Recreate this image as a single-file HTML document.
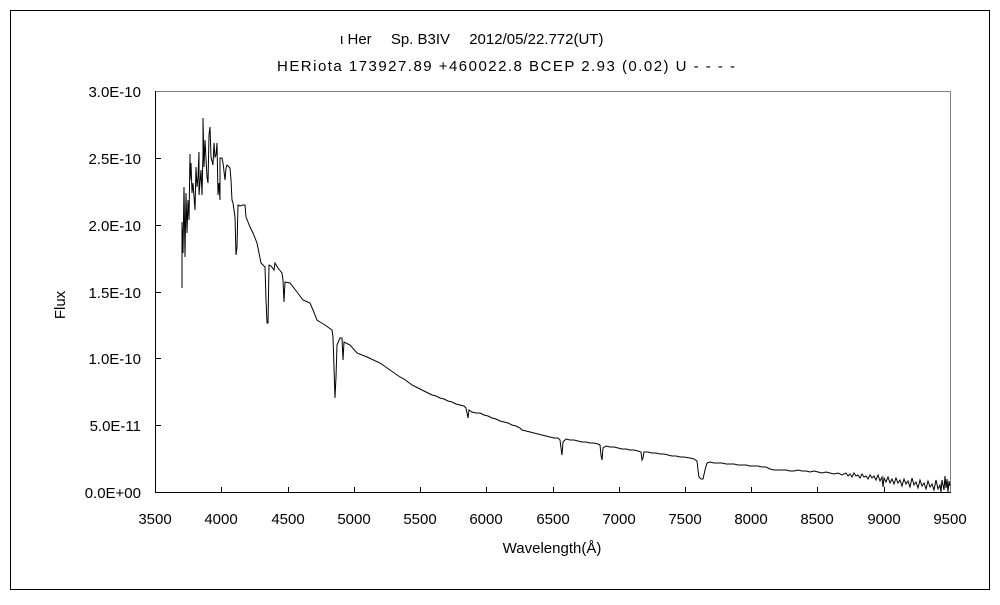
<!DOCTYPE html>
<html><head><meta charset="utf-8"><style>
body{margin:0;background:#fff}
svg text{font-family:"Liberation Sans","Noto Sans CJK JP",sans-serif;font-size:15px;fill:#000}
</style></head><body>
<svg width="1000" height="600" viewBox="0 0 1000 600">
<rect x="10.5" y="10.5" width="979" height="579" fill="#fff" stroke="#000"/>
<text x="340" y="44">ι  Her　 Sp. B3IV　 2012/05/22.772(UT)</text>
<text x="277" y="71" textLength="458" lengthAdjust="spacing">HERiota 173927.89 +460022.8 BCEP 2.93 (0.02) U - - - -</text>
<rect x="155.5" y="91.5" width="795" height="401" fill="none" stroke="#808080"/>
<line x1="155.5" y1="91" x2="155.5" y2="493" stroke="#000"/>
<line x1="155" y1="492.5" x2="951" y2="492.5" stroke="#000"/>
<g stroke="#000">
<line x1="155" y1="158.5" x2="161" y2="158.5"/><line x1="155" y1="225.5" x2="161" y2="225.5"/>
<line x1="155" y1="292.5" x2="161" y2="292.5"/><line x1="155" y1="358.5" x2="161" y2="358.5"/>
<line x1="155" y1="425.5" x2="161" y2="425.5"/>
<line x1="221.5" y1="487" x2="221.5" y2="493"/><line x1="288.5" y1="487" x2="288.5" y2="493"/>
<line x1="354.5" y1="487" x2="354.5" y2="493"/><line x1="420.5" y1="487" x2="420.5" y2="493"/>
<line x1="486.5" y1="487" x2="486.5" y2="493"/><line x1="553.5" y1="487" x2="553.5" y2="493"/>
<line x1="619.5" y1="487" x2="619.5" y2="493"/><line x1="685.5" y1="487" x2="685.5" y2="493"/>
<line x1="751.5" y1="487" x2="751.5" y2="493"/><line x1="817.5" y1="487" x2="817.5" y2="493"/>
<line x1="884.5" y1="487" x2="884.5" y2="493"/>
</g>
<g text-anchor="end">
<text x="141" y="97">3.0E-10</text><text x="141" y="164">2.5E-10</text><text x="141" y="231">2.0E-10</text>
<text x="141" y="298">1.5E-10</text><text x="141" y="364">1.0E-10</text><text x="141" y="431">5.0E-11</text>
<text x="141" y="498">0.0E+00</text>
</g>
<g text-anchor="middle">
<text x="155" y="524">3500</text><text x="221" y="524">4000</text><text x="288" y="524">4500</text>
<text x="354" y="524">5000</text><text x="420" y="524">5500</text><text x="486" y="524">6000</text>
<text x="553" y="524">6500</text><text x="619" y="524">7000</text><text x="685" y="524">7500</text>
<text x="751" y="524">8000</text><text x="817" y="524">8500</text><text x="884" y="524">9000</text>
<text x="950" y="524">9500</text>
<text x="552" y="553">Wavelength(Å)</text>
</g>
<text transform="translate(65,305) rotate(-90)" text-anchor="middle">Flux</text>
<polyline fill="none" stroke="#000" stroke-width="1" points="
182,288 182,222 183,253 184,187 185,257 186,193 187,233 188,200 189,220 190,154 190,180 191,163 192,193 193,183 195,210 196,167 197,187 198,177 199,152 199,195 201,170 202,195 203,152 203,118 204,167 205,140 207,177 208,183 209,135 210,127 211,157 213,165 214,143 215,157 216,155 217,143 218,195 219,183 220,200 220,158 222,158 223,163 225,180 226,168 227,165 229,167 230,168 231,180 232,200 233,203 235,217 236,255 237,247 238,205 240,206 243,205 245,205 246,217 250,227 253,233 257,243 261,263 265,267 266,300 267,323 268,323 269,265 271,266 274,270 275,263 278,268 282,273 283,280 284,302 285,282 290,283 297,292 303,300 310,303 313,310 317,320 320,322 325,325 332,330 333,337 335,398 336,377 337,345 340,338 342,338 343,360 344,342 350,345 357,353 367,357 380,363 390,370 400,377 404,379 408,382 412,385 416,387 420,389 424,391 428,393 432,395 436,396 440,398 444,399 448,401 452,402 456,404 460,405 464,406 466,408 468,418 469,410 472,412 476,413 480,413 484,415 488,416 492,418 496,419 500,421 504,422 508,423 512,425 516,426 520,428 522,430 526,431 530,432 534,433 538,434 542,435 546,436 550,437 554,438 558,438 560,440 561,448 562,455 563,442 566,439 570,440 574,440 578,441 582,442 586,442 590,443 594,443 598,444 600,445 601,455 602,460 603,448 606,446 610,447 614,447 618,448 622,449 626,449 630,450 634,450 638,451 641,452 642,460 643,458 644,452 648,452 652,453 656,453 660,454 664,454 668,455 672,456 676,456 680,457 684,457 690,458 694,459 697,461 698,470 699,477 701,479 703,479 705,470 707,463 710,462 714,463 718,463 722,463 726,464 730,464 734,464 738,465 742,465 746,465 750,466 754,466 758,466 762,467 766,467 770,469 774,470 778,470 782,470 786,470 790,471 794,471 798,470 802,471 806,471 810,472 814,471 818,472 822,473 826,472 830,473 834,474 838,473 842,475 846,473 848,476 850,474 852,477 854,473 856,476 858,475 860,478 862,474 864,477 866,476 868,479 870,475 872,478 874,476 876,480 878,475 880,481 882,477 883,487 884,478 886,482 888,477 890,483 892,479 894,484 896,478 898,483 900,480 902,486 904,479 906,484 908,481 910,487 912,478 914,485 916,482 918,488 920,480 922,486 924,483 926,489 928,481 930,487 932,484 934,490 936,480 938,489 940,485 941,492 942,480 944,490 945,476 946,488 947,479 948,492 949,481 950,486
"/>
</svg>
</body></html>
